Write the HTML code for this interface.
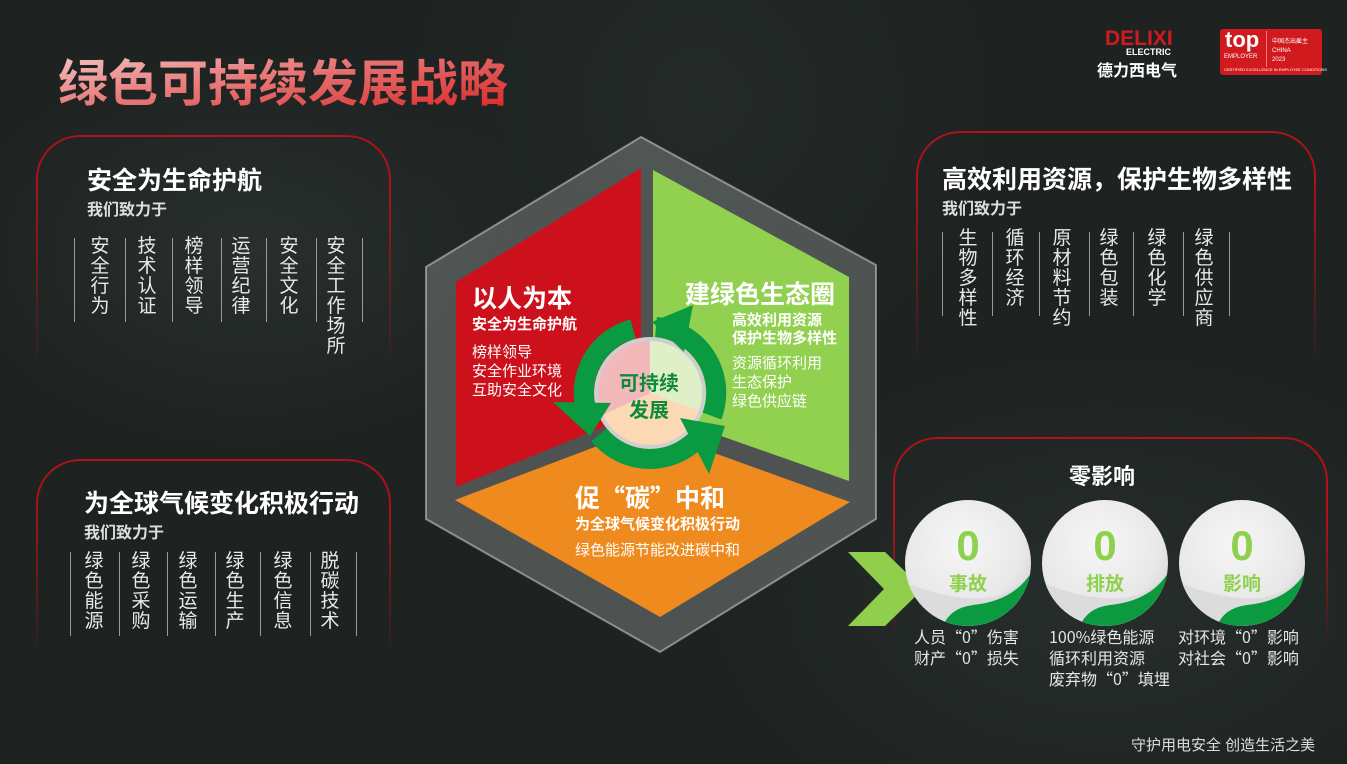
<!DOCTYPE html>
<html><head><meta charset="utf-8">
<style>
*{margin:0;padding:0;box-sizing:border-box}
body{width:1347px;height:764px;overflow:hidden;position:relative;font-family:"Liberation Sans","Noto Sans CJK SC",sans-serif;
background:
radial-gradient(ellipse 300px 200px at 250px 250px,rgba(60,70,65,.35),transparent),
radial-gradient(ellipse 400px 250px at 1100px 600px,rgba(55,65,60,.35),transparent),
radial-gradient(ellipse 300px 300px at 700px 100px,rgba(50,58,55,.3),transparent),
#1e2322;}
.a{position:absolute}
.panel{position:absolute;border:2px solid #b01218;border-bottom:none;border-radius:44px 44px 0 0;
-webkit-mask-image:linear-gradient(to bottom,#000 20%,transparent 100%);mask-image:linear-gradient(to bottom,#000 20%,transparent 100%)}
.ttl{position:absolute;color:#fff;font-weight:bold;font-size:25px;white-space:nowrap}
.sub{position:absolute;color:#ddd;font-weight:bold;font-size:16px;white-space:nowrap}
.vl{position:absolute;width:1px;background:#9a9a9a}
.vt{position:absolute;color:#e8e8e8;font-size:19px;line-height:20px;width:20px;text-align:center}
.wt{position:absolute;color:#fff;white-space:nowrap}
.cj{font-family:"Noto Sans CJK SC",sans-serif}
</style></head><body>

<div class="a" style="left:58px;top:44px;font-size:50px;font-weight:bold;white-space:nowrap;background:linear-gradient(170deg,#f6d0d0 0%,#e98080 40%,#d92020 100%);-webkit-background-clip:text;background-clip:text;color:transparent">绿色可持续发展战略</div>

<!-- logos -->
<div class="a" style="left:1105px;top:27px;color:#d01a1e;font-weight:900;font-size:21px;letter-spacing:0px;font-family:'Liberation Sans',sans-serif">DELIXI</div>
<div class="a" style="left:1126px;top:47px;color:#fff;font-size:9px;font-weight:bold">ELECTRIC</div>
<div class="a" style="left:1097px;top:57px;color:#fff;font-size:16px;font-weight:bold">德力西电气</div>
<div class="a" style="left:1220px;top:29px;width:102px;height:46px;background:#d01a1e;border-radius:3px"></div>
<div class="a" style="left:1266px;top:31px;width:1px;height:36px;background:#f08080"></div>
<div class="a" style="left:1225px;top:27px;color:#fff;font-size:22px;font-weight:bold">top</div>
<div class="a" style="left:1224px;top:54px;color:#fff;font-size:6px">EMPLOYER</div>
<div class="a" style="left:1272px;top:38px;color:#fff;font-size:6px;line-height:9px">中国杰出雇主<br>CHINA<br>2023</div>
<div class="a" style="left:1224px;top:67px;color:#fff;font-size:4px;white-space:nowrap">CERTIFIED EXCELLENCE IN EMPLOYEE CONDITIONS</div>

<!-- left panel 1 -->
<div class="panel" style="left:36px;top:135px;width:355px;height:240px"></div>
<div class="ttl" style="left:87px;top:161px">安全为生命护航</div>
<div class="sub" style="left:87px;top:196px">我们致力于</div>
<div class="vl" style="left:74px;top:238px;height:84px"></div>
<div class="vl" style="left:125px;top:238px;height:84px"></div>
<div class="vl" style="left:172px;top:238px;height:84px"></div>
<div class="vl" style="left:221px;top:238px;height:84px"></div>
<div class="vl" style="left:266px;top:238px;height:84px"></div>
<div class="vl" style="left:316px;top:238px;height:84px"></div>
<div class="vl" style="left:362px;top:238px;height:84px"></div>
<div class="vt" style="left:90px;top:237px">安全行为</div>
<div class="vt" style="left:137px;top:237px">技术认证</div>
<div class="vt" style="left:184px;top:237px">榜样领导</div>
<div class="vt" style="left:231px;top:237px">运营纪律</div>
<div class="vt" style="left:279px;top:237px">安全文化</div>
<div class="vt" style="left:326px;top:237px">安全工作场所</div>

<!-- left panel 2 -->
<div class="panel" style="left:36px;top:459px;width:355px;height:200px"></div>
<div class="ttl" style="left:84px;top:484px">为全球气候变化积极行动</div>
<div class="sub" style="left:84px;top:519px">我们致力于</div>
<div class="vl" style="left:70px;top:552px;height:84px"></div>
<div class="vl" style="left:119px;top:552px;height:84px"></div>
<div class="vl" style="left:167px;top:552px;height:84px"></div>
<div class="vl" style="left:215px;top:552px;height:84px"></div>
<div class="vl" style="left:260px;top:552px;height:84px"></div>
<div class="vl" style="left:310px;top:552px;height:84px"></div>
<div class="vl" style="left:356px;top:552px;height:84px"></div>
<div class="vt" style="left:84px;top:552px">绿色能源</div>
<div class="vt" style="left:131px;top:552px">绿色采购</div>
<div class="vt" style="left:178px;top:552px">绿色运输</div>
<div class="vt" style="left:225px;top:552px">绿色生产</div>
<div class="vt" style="left:273px;top:552px">绿色信息</div>
<div class="vt" style="left:320px;top:552px">脱碳技术</div>

<!-- right panel 1 -->
<div class="panel" style="left:916px;top:131px;width:400px;height:240px"></div>
<div class="ttl" style="left:942px;top:160px">高效利用资源，保护生物多样性</div>
<div class="sub" style="left:942px;top:195px">我们致力于</div>
<div class="vl" style="left:942px;top:232px;height:84px"></div>
<div class="vl" style="left:992px;top:232px;height:84px"></div>
<div class="vl" style="left:1039px;top:232px;height:84px"></div>
<div class="vl" style="left:1089px;top:232px;height:84px"></div>
<div class="vl" style="left:1133px;top:232px;height:84px"></div>
<div class="vl" style="left:1183px;top:232px;height:84px"></div>
<div class="vl" style="left:1229px;top:232px;height:84px"></div>
<div class="vt" style="left:958px;top:229px">生物多样性</div>
<div class="vt" style="left:1005px;top:229px">循环经济</div>
<div class="vt" style="left:1052px;top:229px">原材料节约</div>
<div class="vt" style="left:1099px;top:229px">绿色包装</div>
<div class="vt" style="left:1147px;top:229px">绿色化学</div>
<div class="vt" style="left:1194px;top:229px">绿色供应商</div>

<!-- right panel 2 -->
<div class="panel" style="left:893px;top:437px;width:435px;height:210px;-webkit-mask-image:linear-gradient(to bottom,#000 40%,transparent 100%);mask-image:linear-gradient(to bottom,#000 40%,transparent 100%)"></div>
<div class="ttl" style="left:1069px;top:459px;font-size:22px">零影响</div>

<svg class="a" style="left:0;top:0" width="1347" height="764">
<defs>
<radialGradient id="cg" cx="45%" cy="35%" r="70%"><stop offset="0" stop-color="#f6f6f6"/><stop offset=".7" stop-color="#e8e8e8"/><stop offset="1" stop-color="#cfcfcf"/></radialGradient>
<clipPath id="cc"><circle cx="0" cy="0" r="63"/></clipPath>
<g id="zc">
<circle cx="0" cy="0" r="63" fill="url(#cg)"/>
<g clip-path="url(#cc)">
<path d="M-63,20 Q-10,40 25,34 Q50,28 63,8 L70,70 L-70,70Z" fill="#dcdcdc"/>
<path d="M-25,63 Q-18,45 5,42 Q45,38 63,10 L70,70 L-30,70Z" fill="#0c9a40"/>
</g>
</g>
</defs>
<!-- hexagon -->
<polygon points="641,137 876,265 876,519 660,652 426,519 426,267" fill="rgba(150,155,152,.4)" stroke="rgba(210,210,210,.55)" stroke-width="2"/>
<polygon points="641,168 641,412 456,487 456,282" fill="#cd111c"/>
<polygon points="653,170 849,277 849,481 653,412" fill="#92d050"/>
<polygon points="455,500 645,428 850,502 660,617" fill="#ef8a1f"/>
<!-- center -->
<circle cx="650" cy="393" r="56" fill="#cfcfcf"/>
<path d="M650,393 L650,341 A52 52 0 0 0 602.9,415 Z" fill="#f2b8ba"/>
<path d="M650,393 L650,341 A52 52 0 0 1 698.9,410.8 Z" fill="#dff0c8"/>
<path d="M650,393 L698.9,410.8 A52 52 0 0 1 602.9,415 Z" fill="#fbd9b5"/>
<g fill="none" stroke="#0a9a42" stroke-width="20">
<path d="M707,426 A66 66 0 0 1 599,435"/>
<path d="M588,416 A66 66 0 0 1 633,329"/>
<path d="M656,327 A66 66 0 0 1 712,416"/>
</g>
<g fill="#0a9a42">
<polygon points="693,305 652,322 684,352"/>
<polygon points="553,402 611,403 590,436"/>
<polygon points="709,474 680,418 725,426"/>
</g>
<text x="649" y="390" text-anchor="middle" font-size="20" font-weight="bold" fill="#0f8a3c" font-family="Liberation Sans,Noto Sans CJK SC,sans-serif">可持续</text>
<text x="649" y="417" text-anchor="middle" font-size="20" font-weight="bold" fill="#0f8a3c" font-family="Liberation Sans,Noto Sans CJK SC,sans-serif">发展</text>
<!-- chevron -->
<polygon points="848,552 885,552 923,589 885,626 848,626 884,589" fill="#8fcf4c"/>
<use href="#zc" x="968" y="563"/>
<use href="#zc" x="1105" y="563"/>
<use href="#zc" x="1242" y="563"/>
<g font-family="Liberation Sans,Noto Sans CJK SC,sans-serif" font-weight="bold" fill="#8ed14e" text-anchor="middle">
<text x="968" y="560" font-size="42">0</text><text x="968" y="590" font-size="19">事故</text>
<text x="1105" y="560" font-size="42">0</text><text x="1105" y="590" font-size="19">排放</text>
<text x="1242" y="560" font-size="42">0</text><text x="1242" y="590" font-size="19">影响</text>
</g>
</svg>

<div class="wt" style="left:472px;top:279px;font-size:25px;font-weight:bold">以人为本</div>
<div class="wt" style="left:472px;top:313px;font-size:15px;font-weight:bold">安全为生命护航</div>
<div class="wt" style="left:472px;top:343px;font-size:15px;line-height:19px">榜样领导<br>安全作业环境<br>互助安全文化</div>
<div class="wt" style="left:685px;top:275px;font-size:25px;font-weight:bold">建绿色生态圈</div>
<div class="wt" style="left:732px;top:312px;font-size:15px;font-weight:bold;line-height:18px">高效利用资源<br>保护生物多样性</div>
<div class="wt" style="left:732px;top:354px;font-size:15px;line-height:19px">资源循环利用<br>生态保护<br>绿色供应链</div>
<div class="wt cj" style="left:575px;top:479px;font-size:25px;font-weight:bold">促“碳”中和</div>
<div class="wt" style="left:575px;top:513px;font-size:15px;font-weight:bold">为全球气候变化积极行动</div>
<div class="wt" style="left:575px;top:539px;font-size:15px">绿色能源节能改进碳中和</div>

<div class="wt cj" style="left:914px;top:626px;font-size:16px;line-height:21px;color:#e6e6e6">人员“0”伤害<br>财产“0”损失</div>
<div class="wt cj" style="left:1049px;top:626px;font-size:16px;line-height:21px;color:#e6e6e6">100%绿色能源<br>循环利用资源<br>废弃物“0”填埋</div>
<div class="wt cj" style="left:1178px;top:626px;font-size:16px;line-height:21px;color:#e6e6e6">对环境“0”影响<br>对社会“0”影响</div>

<div class="wt" style="left:1131px;top:734px;font-size:15px;color:#ddd">守护用电安全 创造生活之美</div>
</body></html>
